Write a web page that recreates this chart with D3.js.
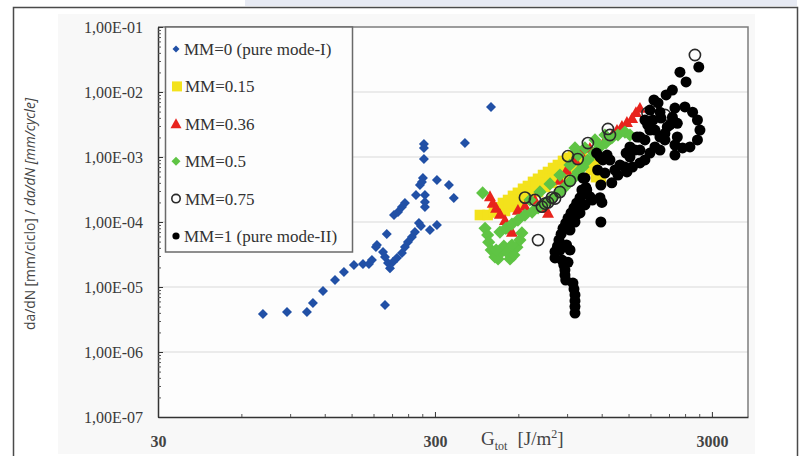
<!DOCTYPE html>
<html><head><meta charset="utf-8">
<script src="https://cdn.jsdelivr.net/npm/d3@7"></script>
<style>body{margin:0;background:#fff;} svg{display:block}</style>
</head><body>
<svg id="c" width="801" height="456"></svg>
<script>
// ---------- data ----------
const xTickValues = [30, 300, 3000];
const xTickLabels = ["30", "300", "3000"];
const yTickValues = [1e-7, 1e-6, 1e-5, 1e-4, 1e-3, 1e-2, 1e-1];
const yTickLabels = ["1,00E-07", "1,00E-06", "1,00E-05", "1,00E-04", "1,00E-03", "1,00E-02", "1,00E-01"];
const seriesNames = ["MM=0 (pure mode-I)", "MM=0.15", "MM=0.36", "MM=0.5", "MM=0.75", "MM=1 (pure mode-II)"];
const xTitle = "G", xTitleSub = "tot", xTitleUnit = "[J/m", xTitleSup = "2";
const yTitleA = "da/dN [mm/ciclo] / ", yTitleB = "da/dN [mm/cycle]";

// MM=0 (pure mode-I)
const mm0G = [71.8, 87.7, 103.5, 108.8, 118.3, 130.7, 140.8, 153, 164.9, 173.3, 183.7, 198, 201, 177.7, 185.2,
  198, 203, 211.6, 218.7, 228, 233.8, 239.7, 247.8, 254, 262.6, 267, 287.8, 305, 213.4, 220.6, 228, 233.8,
  256.2, 276, 276, 276, 264.8, 269.3, 271.5, 305, 337, 351, 273.7, 273.7, 273.7, 385, 478, 194.8, 206.4];
const mm0Rate = [3.84e-6, 4.12e-6, 4.12e-6, 5.67e-6, 8.68e-6, 1.28e-5, 1.70e-5, 2.18e-5, 2.26e-5, 2.26e-5, 4.12e-5, 5.28e-6, 6.54e-5, 2.60e-5, 4.43e-5,
  2.90e-5, 2.34e-5, 2.42e-5, 2.79e-5, 3.33e-5, 4.12e-5, 4.92e-5, 5.88e-5, 7.01e-5, 9.66e-5, 8.68e-5, 7.53e-5, 9.0e-5, 1.28e-4, 1.43e-4, 1.70e-4, 1.96e-4,
  2.60e-4, 2.60e-4, 2.03e-4, 1.70e-4, 3.71e-4, 4.12e-4, 4.75e-4, 4.43e-4, 3.71e-4, 2.34e-4, 9.31e-4, 1.37e-3, 1.58e-3, 1.64e-3, 5.88e-3, 3.44e-5, 1.95e-5];

// MM=0.15
const mm15G = [436, 465, 490, 507, 528, 551, 574, 598, 624, 650, 678, 707, 737, 768, 801, 834, 870, 907, 945,
  537, 569, 598, 634, 667, 707, 749, 794, 834, 884, 930, 985, 1070, 1097, 1145, 1192, 1135,
  522, 555, 588, 618, 656, 695, 737, 781, 828, 870, 922, 975, 1018];
const mm15Rate = [1.28e-4, 1.28e-4, 1.40e-4, 1.68e-4, 1.96e-4, 2.18e-4, 2.52e-4, 2.81e-4, 3.24e-4, 3.58e-4, 4.14e-4, 4.62e-4, 5.28e-4, 5.88e-4, 6.77e-4, 7.53e-4, 8.7e-4, 9.7e-4, 1.03e-3,
  1.48e-4, 1.70e-4, 1.90e-4, 2.26e-4, 2.60e-4, 2.90e-4, 3.46e-4, 4.0e-4, 4.6e-4, 5.28e-4, 6.1e-4, 7.0e-4, 8.1e-4, 6.31e-4, 4.9e-4, 4.3e-4, 8.99e-4,
  1.53e-4, 1.96e-4, 2.18e-4, 2.6e-4, 2.95e-4, 3.46e-4, 4.0e-4, 4.6e-4, 5.28e-4, 6.31e-4, 7.53e-4, 8.7e-4, 1.0e-3];

// MM=0.36
const mm36G = [474, 485, 499, 515, 537, 551, 569, 598, 634, 689, 768, 749, 848, 896, 961, 1002, 1088, 1160, 1233, 1310,
  1363, 1420, 1480, 1545, 1595, 1649];
const mm36Rate = [2.48e-4, 1.96e-4, 1.65e-4, 1.33e-4, 1.07e-4, 7.8e-5, 7.0e-5, 1.53e-4, 1.76e-4, 2.18e-4, 1.38e-4, 1.65e-4, 4.43e-4, 6.31e-4, 8.99e-4, 1.2e-3, 1.38e-3, 1.2e-3, 1.83e-3, 2.18e-3,
  2.60e-3, 3.0e-3, 3.44e-3, 3.97e-3, 4.9e-3, 5.67e-3];

// MM=0.5
const mm50G = [446, 455, 465, 469, 479, 494, 507, 521, 532, 546, 560, 578, 593, 608, 618, 499, 569,
  515, 541, 569, 598, 634, 673, 707, 743, 781, 821, 863, 907, 945, 985, 1027, 1070, 1125, 1183, 1243, 1305, 1374, 1456, 1518,
  661, 718, 781, 848, 922, 985, 1044, 1135, 1233, 961];
const mm50Rate = [2.8e-4, 8.0e-5, 6.31e-5, 4.9e-5, 3.71e-5, 2.9e-5, 2.7e-5, 3.44e-5, 4.25e-5, 3.44e-5, 2.7e-5, 3.1e-5, 4.1e-5, 5.28e-5, 6.8e-5, 3.71e-5, 4.43e-5,
  7.0e-5, 8.0e-5, 9.3e-5, 1.07e-4, 1.28e-4, 1.42e-4, 1.65e-4, 1.9e-4, 2.18e-4, 2.6e-4, 3.11e-4, 3.85e-4, 4.6e-4, 5.88e-4, 7.0e-4, 8.99e-4, 1.15e-3, 1.42e-3, 1.65e-3, 1.96e-3, 2.18e-3, 2.42e-3, 2.18e-3,
  2.18e-4, 2.9e-4, 3.85e-4, 5.28e-4, 7.53e-4, 1.07e-3, 1.38e-3, 1.83e-3, 2.18e-3, 1.38e-3];

// MM=0.75
const mm75G = [634, 689, 730, 768, 814, 848, 922, 707, 907, 983, 1070, 1264, 1285, 1756, 2030, 2605, 794, 749];
const mm75Rate = [2.37e-4, 2.18e-4, 1.72e-4, 2.0e-4, 2.3e-4, 2.9e-4, 4.3e-4, 5.28e-5, 1.03e-3, 9.3e-4, 1.64e-3, 2.7e-3, 2.18e-3, 4.75e-3, 4.43e-3, 3.71e-2, 2.37e-4, 1.92e-4];

// MM=1 (pure mode-II)
const mm100G = [961, 961, 961, 961, 953, 945, 890, 884, 884, 876, 863, 814, 814, 831, 841, 856, 870, 890, 907, 930, 953, 975, 1002, 1027, 1052,
  922, 922, 961, 1002, 1044, 1088, 1192, 1202, 1110, 1027, 1060, 1160, 1183, 1305, 1192, 1150, 1255, 1044, 1018, 1183,
  2690, 2300, 2420, 2160, 2050, 1853, 1917, 2397, 2555, 2660, 2716, 2660, 2499, 2350, 2250, 2250, 2160, 2070, 1948, 1868, 1792, 1719, 1649, 1550, 1480, 1456, 1470, 1610, 1838, 1760, 1948,
  1212, 1233, 1374, 1649, 1518, 1518, 2030, 2206, 1948, 1582, 1719, 1792,
  1719, 1868, 2030, 2116, 1649, 1397, 1340, 1285, 1792, 1965, 2206, 2206,
  848, 907, 896, 970, 1018];
const mm100Rate = [3.97e-6, 5.0e-6, 6.1e-6, 7.53e-6, 9.3e-6, 1.15e-5, 1.28e-5, 1.53e-5, 1.83e-5, 2.18e-5, 2.6e-5, 2.8e-5, 3.5e-5, 4.25e-5, 5.28e-5, 6.5e-5, 8.0e-5, 9.6e-5, 1.15e-4, 1.38e-4, 1.65e-4, 1.96e-4, 2.37e-4, 2.8e-4, 3.4e-4,
  3.71e-5, 7.53e-5, 1.0e-4, 1.38e-4, 1.83e-4, 2.45e-4, 1.0e-4, 2.0e-4, 2.18e-4, 4.75e-4, 3.11e-4, 6.31e-4, 1.0e-3, 4.0e-4, 3.71e-4, 1.15e-3, 1.07e-3, 4.75e-4, 3.11e-4, 2.37e-4,
  2.42e-2, 2.02e-2, 1.43e-2, 1.07e-2, 9.0e-3, 7.53e-3, 6.8e-3, 5.9e-3, 4.9e-3, 3.71e-3, 2.6e-3, 1.83e-3, 1.43e-3, 1.38e-3, 2.03e-3, 3.3e-3, 4.1e-3, 2.9e-3, 2.03e-3, 1.43e-3, 1.15e-3, 9.0e-4, 8.1e-4, 7.0e-4, 5.9e-4, 7.0e-4, 1.15e-3, 2.03e-3, 3.71e-3, 3.11e-3, 4.9e-3,
  9.0e-4, 5.67e-4, 5.28e-4, 2.03e-3, 1.0e-3, 1.43e-3, 2.3e-3, 1.53e-3, 1.28e-3, 1.28e-3, 1.83e-3, 2.6e-3,
  3.71e-3, 2.6e-3, 1.83e-3, 3.11e-3, 1.28e-3, 7.53e-4, 6.31e-4, 8.99e-4, 5.28e-3, 3.97e-3, 5.67e-3, 1.07e-3,
  3.71e-5, 2.4e-5, 4.43e-5, 1.28e-4, 1.83e-4];

// ---------- drawing ----------
const svg = d3.select("#c");
const W = 801, H = 456;
const P = {l: 158, r: 748, t: 27, b: 417};
const x = d3.scaleLog().domain([30, 4050]).range([P.l, P.r]);
const y = d3.scaleLog().domain([1e-7, 1e-1]).range([P.b, P.t]);

svg.append("rect").attr("width", W).attr("height", H).attr("fill", "#fff");
svg.append("rect").attr("x", 245).attr("y", 0).attr("width", 552).attr("height", 6).attr("fill", "#e7eaf3");
svg.append("rect").attr("x", 58).attr("y", 14).attr("width", 697).attr("height", 440).attr("fill", "#f8f8f8");
svg.append("rect").attr("x", P.l).attr("y", P.t).attr("width", P.r - P.l).attr("height", P.b - P.t).attr("fill", "#fdfdfd");
// outer frame
svg.append("path").attr("d", `M13.5,${H+2}V7.5H797.5V${H+2}`).attr("fill", "none").attr("stroke", "#4a4a4a").attr("stroke-width", 1.5);

// gridlines
svg.append("g").selectAll("line").data(yTickValues.slice(1, -1)).join("line")
  .attr("x1", P.l).attr("x2", P.r).attr("y1", d => y(d)).attr("y2", d => y(d))
  .attr("stroke", "#e4e4e4").attr("stroke-width", 1.5);

// plot border top/right
svg.append("path").attr("d", `M${P.l},${P.t}H${P.r}V${P.b}`).attr("fill", "none").attr("stroke", "#7c7c7c").attr("stroke-width", 1.5);

// minor ticks
const yMinor = [];
for (let e = -7; e < -1; e++) for (let k = 2; k <= 9; k++) yMinor.push(k * Math.pow(10, e));
const xMinor = [];
[30, 300].forEach(b => { for (let k = 2; k <= 9; k++) xMinor.push(k * b); });

const yAx = svg.append("g").attr("transform", `translate(${P.l},0)`)
  .call(d3.axisLeft(y).tickValues(yTickValues).tickSize(4).tickSizeInner(-5).tickSizeOuter(0).tickFormat((d, i) => yTickLabels[i]));
yAx.select(".domain").attr("stroke", "#333").attr("stroke-width", 1.5);
yAx.selectAll(".tick line").attr("stroke", "#333");
yAx.selectAll(".tick text").attr("x", -15).attr("font-family", "'Liberation Serif', serif").attr("font-size", 16).attr("fill", "#3a3a3a");
svg.append("g").attr("transform", `translate(${P.l},0)`)
  .call(d3.axisLeft(y).tickValues(yMinor).tickSizeInner(-3).tickSizeOuter(0).tickFormat(""))
  .call(g => { g.select(".domain").remove(); g.selectAll("line").attr("stroke", "#555"); });

const xAx = svg.append("g").attr("transform", `translate(0,${P.b})`)
  .call(d3.axisBottom(x).tickValues(xTickValues).tickSizeInner(-5).tickSizeOuter(0).tickFormat((d, i) => xTickLabels[i]));
xAx.select(".domain").attr("stroke", "#333").attr("stroke-width", 1.5);
xAx.selectAll(".tick line").attr("stroke", "#333");
xAx.selectAll(".tick text").attr("y", 19).attr("font-family", "'Liberation Serif', serif").attr("font-weight", "bold").attr("font-size", 16).attr("fill", "#444");
svg.append("g").attr("transform", `translate(0,${P.b})`)
  .call(d3.axisBottom(x).tickValues(xMinor).tickSizeInner(-3).tickSizeOuter(0).tickFormat(""))
  .call(g => { g.select(".domain").remove(); g.selectAll("line").attr("stroke", "#555"); });

// marker shapes
const shapes = {
  diamond: r => `M0,${-r}L${r},0L0,${r}L${-r},0Z`,
  square: r => `M${-r},${-r}H${r}V${r}H${-r}Z`,
  triangle: r => `M0,${-r}L${r},${r*0.8}L${-r},${r*0.8}Z`,
  circle: r => `M${r},0A${r},${r} 0 1 1 ${-r},0A${r},${r} 0 1 1 ${r},0Z`
};
const series = [
  {name: seriesNames[0], G: mm0G, R: mm0Rate, shape: "diamond", r: 5, fill: "#2150a6", stroke: "none", lr: 3.5},
  {name: seriesNames[1], G: mm15G, R: mm15Rate, shape: "square", r: 5.3, fill: "#f3e21c", stroke: "none", lr: 5},
  {name: seriesNames[2], G: mm36G, R: mm36Rate, shape: "triangle", r: 6, fill: "#e8231d", stroke: "none", lr: 5.5},
  {name: seriesNames[3], G: mm50G, R: mm50Rate, shape: "diamond", r: 6.6, fill: "#5fc444", stroke: "none", lr: 4.5},
  {name: seriesNames[4], G: mm75G, R: mm75Rate, shape: "circle", r: 5.6, fill: "none", stroke: "#2a2a2a", lr: 4.2},
  {name: seriesNames[5], G: mm100G, R: mm100Rate, shape: "circle", r: 5.5, fill: "#000", stroke: "none", lr: 3.6}
];
const plot = svg.append("g");
series.forEach(s => {
  plot.append("g").selectAll("path").data(s.G.map((g, i) => [g, s.R[i]])).join("path")
    .attr("transform", d => `translate(${x(d[0])},${y(d[1])})`)
    .attr("d", shapes[s.shape](s.r))
    .attr("fill", s.fill).attr("stroke", s.stroke).attr("stroke-width", 1.6);
});

// legend
const lg = svg.append("g");
lg.append("rect").attr("x", 165.5).attr("y", 27).attr("width", 187).attr("height", 225)
  .attr("fill", "#fdfdfd").attr("stroke", "#6a6a6a").attr("stroke-width", 1.5);
series.forEach((s, i) => {
  const cy = 49 + i * 37.4;
  lg.append("path").attr("transform", `translate(${s.shape === "square" ? 177 : 176},${cy})`)
    .attr("d", shapes[s.shape](s.lr)).attr("fill", s.fill).attr("stroke", s.stroke).attr("stroke-width", 1.6);
  lg.append("text").attr("x", i === 0 || i === 5 ? 184 : 185).attr("y", cy).attr("dy", "0.35em")
    .attr("font-family", "'Liberation Serif', serif").attr("font-size", 17).attr("fill", "#333").text(s.name);
});

// x title
const xt = svg.append("text").attr("x", 481).attr("y", 445)
  .attr("font-family", "'Liberation Serif', serif").attr("font-size", 19).attr("fill", "#444");
xt.append("tspan").text(xTitle);
xt.append("tspan").attr("font-size", 12).attr("dy", 5).text(xTitleSub);
xt.append("tspan").attr("dy", -5).attr("dx", 10).text(xTitleUnit);
xt.append("tspan").attr("font-size", 12).attr("dy", -7).text(xTitleSup);
xt.append("tspan").attr("dy", 7).text("]");

// y title
const yt = svg.append("text").attr("transform", "translate(35,214) rotate(-90)").attr("text-anchor", "middle")
  .attr("font-family", "'Open Sans', sans-serif").attr("font-size", 13).attr("fill", "#444");
yt.append("tspan").text(yTitleA);
yt.append("tspan").attr("font-style", "italic").text(yTitleB);
const len = yt.node().getComputedTextLength();
yt.attr("font-size", 13 * 232 / len);
</script>
</body></html>
